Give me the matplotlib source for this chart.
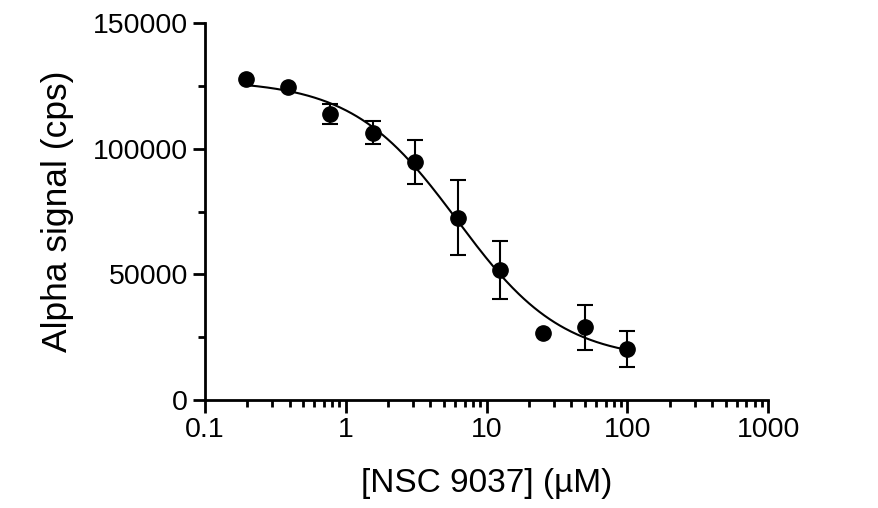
import numpy as np
import matplotlib
matplotlib.use("Agg")
import matplotlib.pyplot as plt
from matplotlib.ticker import FixedLocator, LogLocator, NullFormatter, MultipleLocator

plt.rcParams['font.family'] = ['Liberation Sans', 'DejaVu Sans']

# NSC 9037 concentration (uM), two-fold dilution series
conc = [0.195, 0.39, 0.78, 1.5625, 3.125, 6.25, 12.5, 25, 50, 100]
signal = [127700, 124500, 113800, 106400, 94800, 72500, 51700, 26800, 28900, 20300]
sem = [0, 0, 4000, 4600, 8700, 15000, 11500, 0, 9000, 7100]

xticks = [0.1, 1, 10, 100, 1000]
xticklabels = ['0.1', '1', '10', '100', '1000']
yticks = [0, 50000, 100000, 150000]

x = np.array(conc)
y = np.array(signal)

# four-parameter logistic fit: grid over IC50 / hill, linear least squares for top / bottom
best = None
for c in np.logspace(0, 1.5, 300):
    for h in np.linspace(0.5, 2.0, 151):
        f = 1.0 / (1.0 + (x / c) ** h)
        A = np.column_stack([1 - f, f])
        coef, res, _, _ = np.linalg.lstsq(A, y, rcond=None)
        err = np.sum((A @ coef - y) ** 2)
        if best is None or err < best[0]:
            best = (err, c, h, coef[0], coef[1])
_, ic50, hill, bottom, top = best

xs = np.logspace(np.log10(conc[0]), np.log10(conc[-1]), 300)
ys = bottom + (top - bottom) / (1 + (xs / ic50) ** hill)

fig = plt.figure(figsize=(8.79, 5.08), dpi=100)
ax = fig.add_axes([0.233, 0.2126, 0.641, 0.7421])

ax.plot(xs, ys, color='black', lw=1.5, zorder=2)
yerr = [s if s > 0 else np.nan for s in sem]
ax.errorbar(conc, signal, yerr=yerr, fmt='o', color='black', ms=11,
            ecolor='black', elinewidth=1.5, capsize=5.8, capthick=1.5, zorder=3)

ax.set_xscale('log')
ax.set_xlim(0.1, 1000)
ax.set_ylim(0, 150000)

ax.xaxis.set_major_locator(FixedLocator(xticks))
ax.set_xticklabels(xticklabels)
ax.xaxis.set_minor_locator(LogLocator(base=10, subs=np.arange(2, 10)))
ax.xaxis.set_minor_formatter(NullFormatter())
ax.yaxis.set_major_locator(FixedLocator(yticks))
ax.set_yticklabels([str(v) for v in yticks])
ax.yaxis.set_minor_locator(MultipleLocator(25000))

for s in ['top', 'right']:
    ax.spines[s].set_visible(False)
for s in ['left', 'bottom']:
    ax.spines[s].set_linewidth(2)

ax.tick_params(which='major', length=9, width=2, labelsize=20.5, direction='out', pad=3)
ax.tick_params(which='minor', length=5, width=2, direction='out')

ax.set_xlabel('[NSC 9037] (\u00b5M)', fontsize=24, labelpad=18)
ax.set_ylabel('Alpha signal (cps)', fontsize=25.5, labelpad=14)

fig.savefig('out.png', dpi=100)
